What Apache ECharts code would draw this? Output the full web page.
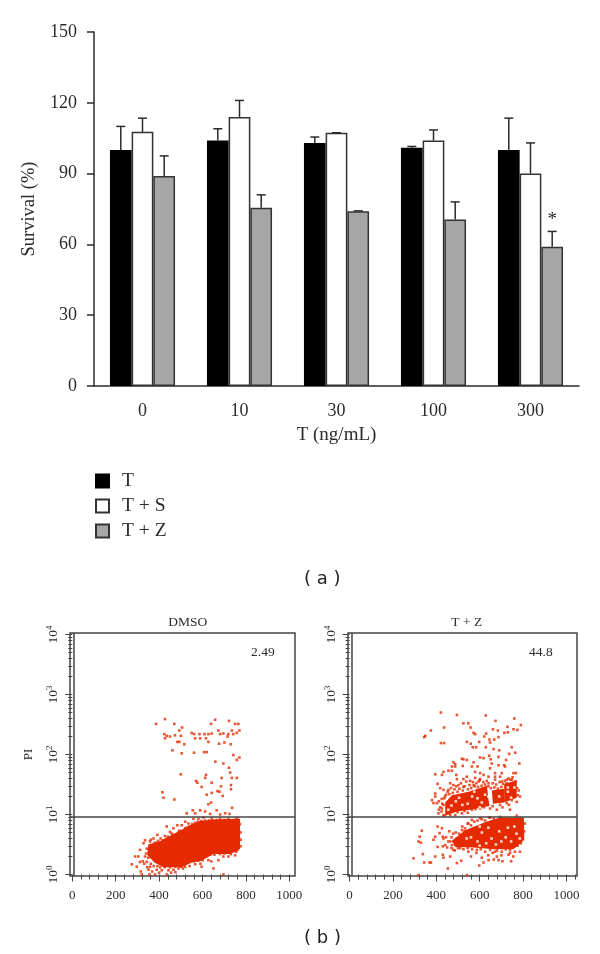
<!DOCTYPE html>
<html><head><meta charset="utf-8">
<style>html,body{margin:0;padding:0;background:#fff}#c{width:600px;height:954px}</style>
<script src="https://cdn.jsdelivr.net/npm/echarts@6/dist/echarts.min.js"></script>
</head><body><div id="c"></div>
<script>
// ---- panel (a) data
const doses = ['0','10','30','100','300'];
const meanT  = [100,104,103,101,100];
const meanTS = [107.7,114,107.3,104,90];
const meanTZ = [89,75.5,74,70.5,59];
const upperT  = [110,109,105.5,101.5,113.5];
const upperTS = [113.5,121,107.3,108.5,103];
const upperTZ = [97.5,81,74.2,78,65.5];
const survivalTicks = [0,30,60,90,120,150];

// ---- panel (b) data: [channel value, log10 PI]
const dmsoSparse = [[427,2.59],[386,2.51],[470,2.51],[506,2.45],[639,2.51],[722,2.56],[750,2.51],[765,2.51],[658,2.58],[424,2.34],[427,2.27],[435,2.31],[450,2.30],[473,2.32],[493,2.40],[500,2.31],[550,2.36],[561,2.34],[566,2.27],[586,2.34],[589,2.27],[609,2.34],[616,2.27],[627,2.34],[642,2.35],[673,2.40],[681,2.34],[696,2.35],[719,2.34],[735,2.40],[758,2.36],[770,2.40],[742,2.34],[715,2.30],[484,2.21],[493,2.21],[516,2.17],[627,2.21],[676,2.18],[701,2.20],[730,2.17],[461,2.07],[561,2.03],[607,2.04],[619,2.04],[504,2.02],[742,1.99],[770,1.95],[758,1.91],[696,1.85],[722,1.78],[727,1.70],[659,1.88],[500,1.67],[616,1.66],[735,1.61],[758,1.61],[688,1.61],[570,1.56],[576,1.53],[596,1.46],[612,1.61],[642,1.53],[685,1.47],[731,1.49],[731,1.42],[415,1.37],[420,1.28],[470,1.25],[619,1.33],[669,1.39],[678,1.38],[642,1.36],[693,1.31],[639,1.20],[627,1.17],[527,1.02],[555,1.07],[566,1.02],[589,1.07],[612,1.05],[635,1.01],[665,1.07],[681,1.00],[704,1.02],[724,1.01],[736,1.11],
[335,.57],[343,.43],[328,.52],[312,.41],[304,.30],[289,.30],[274,.17],[297,.13],[315,.05],[320,0],[331,.18],[343,.21],[358,.55],[374,.60],[392,.66],[407,.60],[427,.64],[435,.80],[450,.71],[466,.77],[484,.82],[504,.82],[520,.88],[535,.85],[558,.93],[581,.93],[604,.95],[642,.93],[681,.93],[719,.93],[758,.93],[520,.77],[493,.73],[458,.68],[351,.08],[389,.08],[412,.07],[443,.07],[466,.08],[489,.10],[520,.13],[566,.17],[596,.13],[627,.24],[650,.10],[673,.24],[696,.30],[719,.30],[750,.32],[761,.41],[696,0],[312,.21],[358,.13],[435,0],[381,0],[355,0]];
const dmsoEdge = [[340,.35],[350,.28],[362,.58],[380,.53],[395,.56],[418,.57],[430,.58],[440,.63],[452,.62],[465,.66],[478,.67],[490,.70],[503,.72],[515,.72],[528,.78],[540,.80],[552,.84],[565,.86],[578,.88],[595,.89],[612,.90],[630,.90],[650,.90],[665,.91],[700,.91],[735,.90],[752,.91],[772,.84],[775,.70],[776,.58],[775,.47],[362,.18],[375,.14],[392,.14],[405,.12],[425,.12],[450,.12],[475,.13],[500,.13],[520,.19],[540,.21],[560,.22],[580,.23],[600,.24],[615,.30],[635,.33],[655,.33],[680,.34],[700,.35],[730,.34],[755,.38],[335,.30],[325,.22],[345,.12],[368,.05],[400,.03],[455,.03],[475,.04],[510,.10],[540,.14],[590,.18],[640,.22]];
const dmsoDense = [[345,.33],[350,.50],[405,.56],[465,.67],[535,.81],[585,.89],[680,.92],[773,.93],[773,.43],[752,.38],[727,.34],[650,.34],[596,.23],[550,.20],[504,.12],[420,.12],[378,.20]];

const tzSparse = [[421,2.70],[495,2.66],[628,2.65],[760,2.60],[673,2.56],[436,2.45],[375,2.40],[349,2.31],[344,2.29],[525,2.52],[548,2.52],[558,2.45],[572,2.36],[579,2.34],[621,2.30],[630,2.35],[661,2.42],[684,2.40],[728,2.46],[774,2.41],[790,2.49],[756,2.42],[714,2.36],[730,2.37],[645,2.25],[667,2.25],[687,2.29],[541,2.21],[559,2.18],[598,2.21],[648,2.20],[421,2.19],[436,2.19],[568,2.12],[584,2.12],[628,2.12],[664,2.09],[690,2.07],[748,2.12],[764,2.03],[736,2.01],[518,1.93],[525,1.92],[479,1.87],[487,1.84],[541,1.91],[572,1.87],[602,1.95],[618,1.94],[644,1.98],[651,1.92],[656,1.85],[687,1.96],[722,1.91],[713,1.82],[783,1.85],[472,1.80],[487,1.80],[522,1.81],[564,1.80],[590,1.80],[687,1.82],[717,1.80],[395,1.67],[433,1.71],[456,1.73],[472,1.73],[426,1.66],[492,1.66],[495,1.59],[525,1.59],[541,1.63],[579,1.71],[602,1.69],[618,1.66],[648,1.77],[671,1.69],[702,1.69],[756,1.69],[767,1.69],[579,1.61],[602,1.59],[641,1.63],[671,1.63],[694,1.63],[748,1.58],[406,1.51],[418,1.44],[464,1.52],[479,1.49],[502,1.49],[525,1.46],[556,1.56],[572,1.49],[595,1.55],[641,1.52],[671,1.58],[702,1.55],[725,1.58],[764,1.55],[395,1.35],[433,1.41],[456,1.41],
[380,1.24],[403,1.19],[426,1.10],[410,1.02],[433,.99],[464,.99],[487,.99],[518,1.02],[564,1.08],[602,1.10],[648,1.10],[679,1.08],[740,1.08],[771,1.21],[786,1.30],[433,1.16],[395,1.30],[387,1.19],[694,1.16],[725,1.19],[748,1.24],
[333,.73],[323,.63],[318,.55],[329,.53],[338,.34],[295,.27],[344,.20],[369,.20],[375,.20],[395,.30],[387,.58],[395,.63],[406,.80],[426,.77],[415,.69],[430,.63],[433,.60],[406,.46],[430,.33],[433,.28],[441,.49],[464,.55],[472,.49],[479,.41],[464,.30],[515,.23],[495,.19],[453,.10],[318,-.01],[541,-.01],[598,.15],[618,.20],[641,.24],[671,.38],[679,.30],[687,.24],[702,.38],[725,.49],[740,.41],[763,.38],[786,.38],[733,.33],[648,.41],[587,.41],[548,.38],[510,.44],[495,.60],[487,.49],[518,.74],[533,.77],[548,.85],[564,.91],[602,.94],[648,.95],[694,.96],[771,.98],[786,.94]];
const tzUpperEdge = [[418,1.12],[428,1.18],[437,1.27],[445,1.33],[452,1.38],[460,1.34],[468,1.44],[476,1.36],[484,1.42],[492,1.47],[498,1.38],[506,1.43],[514,1.52],[522,1.40],[530,1.47],[538,1.55],[546,1.42],[553,1.49],[561,1.44],[569,1.54],[577,1.47],[585,1.52],[592,1.46],[600,1.57],[609,1.48],[617,1.54],[625,1.50],[633,1.56],[640,1.47],[652,1.44],[660,1.52],[668,1.45],[676,1.50],[684,1.43],[692,1.54],[700,1.46],[708,1.51],[716,1.56],[724,1.52],[733,1.60],[742,1.58],[752,1.62],[773,1.44],[776,1.32],[780,1.40],[412,1.08],[424,1.05],[438,.98],[452,1.04],[472,1.05],[498,1.04],[530,1.06],[545,1.03],[580,1.09],[620,1.12],[660,1.14],[705,1.12],[735,1.16],[440,1.30],[425,1.26],[412,1.22]];
const tzLowerEdge = [[455,.55],[470,.62],[478,.68],[490,.70],[505,.68],[520,.80],[530,.72],[545,.85],[560,.82],[575,.88],[590,.90],[610,.92],[625,.90],[645,.95],[665,.93],[450,.45],[470,.44],[485,.40],[500,.44],[525,.42],[545,.44],[565,.42],[585,.36],[605,.42],[625,.38],[640,.32],[660,.36],[680,.40],[700,.32],[720,.42],[740,.36],[755,.30],[775,.48],[790,.52],[805,.72],[808,.85],[560,.30],[610,.28],[665,.25],[705,.22],[745,.22],[430,.47],[445,.62],[460,.72]];
const tzDenseUpperA = [[441,1.20],[472,1.32],[549,1.38],[633,1.48],[645,1.14],[556,1.08],[495,1.05],[441,.98]];
const tzDenseUpperB = [[656,1.40],[713,1.43],[713,1.20],[661,1.18]];
const tzDenseUpperC = [[713,1.51],[771,1.57],[771,1.28],[713,1.20]];
const tzDenseLower = [[470,.56],[535,.74],[630,.88],[695,.95],[804,.95],[806,.58],[756,.42],[664,.42],[572,.45],[490,.46]];
const tzGaps = [[560,.62],[590,.55],[610,.70],[630,.52],[655,.60],[675,.50],[700,.55],[720,.62],[745,.55],[770,.68],[785,.60],[760,.80],[640,.78],[600,.48],[540,.60],[690,.72],[730,.78],[600,.80],[470,1.15],[490,1.22],[520,1.16],[545,1.18],[565,1.30],[590,1.27],[610,1.20],[625,1.33],[505,1.28],[640,1.30],[600,1.12],[690,1.30],[730,1.38],[745,1.28],[760,1.45],[730,1.45],[575,1.38],[455,1.08],[648,1.25]];

const gateLevel = 0.96;        // log10 PI of the horizontal gate
const gateLeft = 8;            // channel value of the inner vertical line
const xMajor = [0,200,400,600,800,1000];
const xMinor = [40,80,120,160,240,280,320,360,440,480,520,560,640,680,720,760,840,880,920,960,1040];
const yDecades = [0,1,2,3,4];
const yMultiples = [2,3,4,5,6,7,8,9];

// ---- styling
const SERIF = '"Liberation Serif","Times New Roman",serif';
const INK = '#2b2b2b', FRAME = '#444', RED = '#e62a00';
const BAR_W = 21.7;
const yMinor = [];
yDecades.slice(0,-1).forEach(d => yMultiples.forEach(m => yMinor.push(d + Math.log10(m))));

function errorSeries(means, uppers, offset, note) {
  return {
    type:'custom', xAxisIndex:0, yAxisIndex:0, silent:true, z:5,
    data: doses.map((d,i)=>[i, means[i], uppers[i]]),
    renderItem(params, api) {
      const i = api.value(0);
      const base = api.coord([i, api.value(1)]);
      const top = api.coord([i, api.value(2)]);
      const x = base[0] + offset;
      const st = {stroke:INK, lineWidth:1.5, fill:'none'};
      const kids = [
        {type:'line', shape:{x1:x,y1:base[1],x2:x,y2:top[1]}, style:st},
        {type:'line', shape:{x1:x-4.5,y1:top[1],x2:x+4.5,y2:top[1]}, style:st}
      ];
      if (note && note.index === i) {
        const p = api.coord([i, note.at]);
        kids.push({type:'text', style:{x:x, y:p[1], text:note.text, fill:INK, font:'19px '+SERIF, textAlign:'center', textVerticalAlign:'middle'}});
      }
      return {type:'group', children:kids};
    }
  };
}
function barSeries(name, vals, fill) {
  return {name, type:'bar', xAxisIndex:0, yAxisIndex:0, data:vals, barWidth:BAR_W, barGap:'0%',
    itemStyle:{color:fill, borderColor:fill==='#000000'?'#000000':'#333333', borderWidth:1.5}, silent:true};
}
function dense(poly, ax) {
  return {type:'custom', xAxisIndex:ax, yAxisIndex:ax, silent:true, z:3, data:[0],
    renderItem(p, api) {
      return {type:'polygon', shape:{points:poly.map(q=>api.coord(q))}, style:{fill:RED}};
    }};
}
function sparse(pts, ax, color, z) {
  return {type:'scatter', xAxisIndex:ax, yAxisIndex:ax, data:pts, symbol:'rect', symbolSize:2.6,
    itemStyle:{color:color||RED}, silent:true, z:z||3, animation:false};
}
function gate(ax) {
  return {type:'line', xAxisIndex:ax, yAxisIndex:ax, data:[], silent:true, z:6,
    markLine:{silent:true, symbol:'none', animation:false, label:{show:false},
      lineStyle:{color:FRAME, width:1.5, type:'solid'},
      data:[{yAxis:gateLevel},{xAxis:gateLeft}]}};
}
function flowAxes(xmin, xmax, gridIndex) {
  const xs = [
    {customT:xMajor, len:7, label:true},
    {customT:xMinor, len:5, label:false}
  ].map(a=>({type:'value', gridIndex, min:xmin, max:xmax, position:'bottom',
    splitLine:{show:false}, axisLine:{show:false},
    axisTick:{show:true, length:a.len, customValues:a.customT, lineStyle:{color:FRAME,width:1}},
    axisLabel:{show:a.label, customValues:a.label?xMajor:undefined, margin:13, formatter:v=>String(v), showMinLabel:true, showMaxLabel:true, fontFamily:SERIF, fontSize:13, color:INK}}));
  const ys = [
    {customT:yDecades, len:7, label:true},
    {customT:yMinor, len:4, label:false}
  ].map(a=>({type:'value', gridIndex, min:-0.025, max:4.025, position:'left',
    splitLine:{show:false}, axisLine:{show:false},
    axisTick:{show:true, length:a.len, customValues:a.customT, lineStyle:{color:FRAME,width:1}},
    axisLabel:{show:a.label, customValues:a.label?yDecades:undefined, rotate:90, margin:10, showMinLabel:true, showMaxLabel:true,
      formatter:v=>'{a|10}{b|'+v+'}',
      rich:{a:{fontFamily:SERIF,fontSize:13.5,color:INK,verticalAlign:'bottom',lineHeight:15},
            b:{fontFamily:SERIF,fontSize:9,color:INK,verticalAlign:'top',lineHeight:15}}}}));
  return {xs, ys};
}

const left = flowAxes(-10.6, 1026, 1);
const right = flowAxes(-7.4, 1049, 2);
const chart = echarts.init(document.getElementById('c'), null, {renderer:'canvas'});
chart.setOption({
  animation:false,
  backgroundColor:'#fff',
  textStyle:{fontFamily:SERIF},
  grid:[
    {left:94, top:32, width:485, height:354},
    {left:70, top:633, width:225, height:243, show:true, borderColor:FRAME, borderWidth:1.5, backgroundColor:'transparent'},
    {left:348, top:633, width:229, height:243, show:true, borderColor:FRAME, borderWidth:1.5, backgroundColor:'transparent'}
  ],
  xAxis:[
    {type:'category', gridIndex:0, data:doses, name:'T (ng/mL)', nameLocation:'middle', nameGap:40,
     nameTextStyle:{fontFamily:SERIF,fontSize:19,color:INK},
     axisLine:{lineStyle:{color:INK,width:1.5}}, axisTick:{length:7,alignWithLabel:false,lineStyle:{color:INK,width:1.5}},
     axisLabel:{fontFamily:SERIF,fontSize:18,color:INK,margin:16}},
    left.xs[0], right.xs[0], left.xs[1], right.xs[1]
  ],
  yAxis:[
    {type:'value', gridIndex:0, min:0, max:150, interval:30, name:'Survival (%)', nameLocation:'middle', nameGap:53,
     nameTextStyle:{fontFamily:SERIF,fontSize:18.5,color:INK},
     splitLine:{show:false}, axisLine:{show:true,lineStyle:{color:INK,width:1.5}},
     axisTick:{show:true,length:7,lineStyle:{color:INK,width:1.5}},
     axisLabel:{fontFamily:SERIF,fontSize:18,color:INK,margin:17,customValues:survivalTicks}},
    Object.assign(left.ys[0],{name:'PI',nameLocation:'middle',nameGap:35,nameTextStyle:{fontFamily:SERIF,fontSize:13,color:INK}}),
    right.ys[0], left.ys[1], right.ys[1]
  ],
  legend:{orient:'vertical', left:95, top:471, padding:0, icon:'rect', itemWidth:13, itemHeight:13, itemGap:5, selectedMode:false,
    textStyle:{fontFamily:SERIF,fontSize:19.5,color:INK,padding:[0,0,0,8]}, data:['T','T + S','T + Z']},
  title:[
    {text:'DMSO', left:187.7, top:615, textAlign:'center', padding:0, textStyle:{fontFamily:SERIF,fontSize:13.5,fontWeight:'normal',color:INK}},
    {text:'T + Z', left:466.7, top:615, textAlign:'center', padding:0, textStyle:{fontFamily:SERIF,fontSize:13.5,fontWeight:'normal',color:INK}}
  ],
  graphic:[
    {type:'text', left:251, top:645, style:{text:'2.49', fill:INK, font:'13.5px '+SERIF}},
    {type:'text', left:529, top:645, style:{text:'44.8', fill:INK, font:'13.5px '+SERIF}},
    {type:'text', left:304, top:570, style:{text:'( a )', fill:'#222', font:'18px "DejaVu Sans"'}},
    {type:'text', left:304, top:929, style:{text:'( b )', fill:'#222', font:'18px "DejaVu Sans"'}}
  ],
  series:[
    barSeries('T', meanT, '#000000'),
    barSeries('T + S', meanTS, '#ffffff'),
    barSeries('T + Z', meanTZ, '#a6a6a6'),
    errorSeries(meanT, upperT, -BAR_W),
    errorSeries(meanTS, upperTS, 0),
    errorSeries(meanTZ, upperTZ, BAR_W, {index:4, at:70.5, text:'*'}),
    dense(dmsoDense,1), sparse(dmsoSparse,1), sparse(dmsoEdge,1), gate(1),
    dense(tzDenseUpperA,2), dense(tzDenseUpperB,2), dense(tzDenseUpperC,2), dense(tzDenseLower,2),
    sparse(tzGaps,2,'#ffffff',4),
    sparse(tzSparse,2), sparse(tzUpperEdge,2), sparse(tzLowerEdge,2), gate(2)
  ]
});
</script></body></html>
